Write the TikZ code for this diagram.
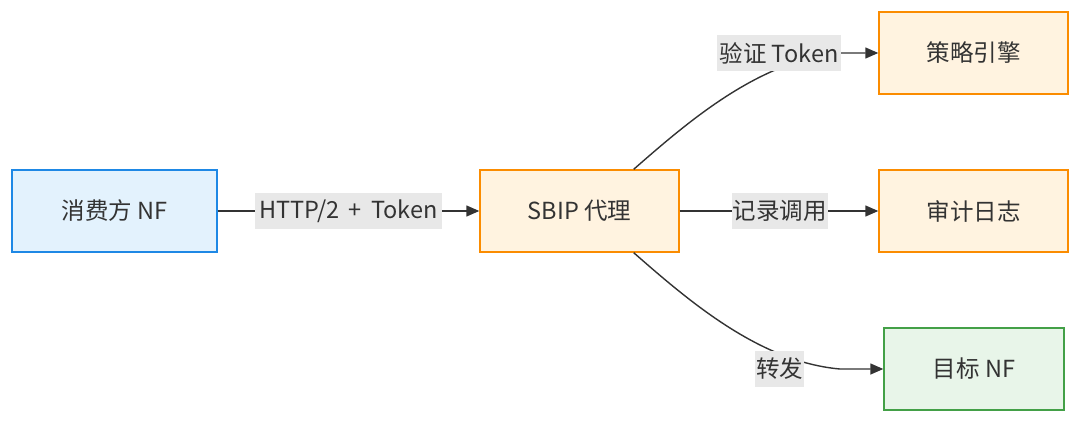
\documentclass[tikz,border=0pt]{standalone}
\usepackage{fontspec}
\setmainfont{Noto Sans CJK SC}
\usetikzlibrary{arrows.meta,calc}
\definecolor{bluefill}{HTML}{E3F2FD}
\definecolor{blueline}{HTML}{1E88E5}
\definecolor{orfill}{HTML}{FFF3E0}
\definecolor{orline}{HTML}{FB8C00}
\definecolor{grfill}{HTML}{E8F5E9}
\definecolor{grline}{HTML}{43A047}
\definecolor{lblbg}{HTML}{E8E8E8}
\definecolor{edgec}{HTML}{333333}
\definecolor{txt}{HTML}{333333}
\tikzset{
  box/.style={draw, line width=1.4pt, minimum height=82pt, inner sep=0pt,
    font=\fontsize{23.5}{28}\selectfont, text=txt},
  bluebox/.style={box, fill=bluefill, draw=blueline},
  orbox/.style={box, fill=orfill, draw=orline},
  grbox/.style={box, fill=grfill, draw=grline},
  lbl/.style={fill=lblbg, inner xsep=1pt, inner ysep=0pt, minimum height=36pt,
    font=\fontsize{23.5}{28}\selectfont, text=txt},
  conn/.style={draw=edgec, line width=1.4pt, -{Triangle[length=13pt,width=11pt]}},
}
\begin{document}
\begin{tikzpicture}[x=1pt,y=-1pt]
\useasboundingbox (0,0) rectangle (1080,423);
\node[bluebox, minimum width=205pt] (cons) at (114.5,211) {消费方 NF};
\node[orbox, minimum width=199pt] (sbip) at (579.5,211) {SBIP 代理};
\node[orbox, minimum width=189pt] (pol) at (973.5,53) {策略引擎};
\node[orbox, minimum width=189pt] (aud) at (973.5,211) {审计日志};
\node[grbox, minimum width=180pt] (tgt) at (974,369) {目标 NF};
\coordinate (stop) at ($(sbip.north east)+(-46,0)$);
\coordinate (sbot) at ($(sbip.south east)+(-46,0)$);
% straight edges
\draw[conn] (cons.east) -- (sbip.west);
\node[lbl, minimum width=187pt] (l1) at (348.5,211) {HTTP/2 \,+\, Token};
\draw[conn] (sbip.east) -- (aud.west);
\node[lbl] (l3) at (779.5,211) {记录调用};
% curved edges
\draw[conn] (stop) .. controls (690,120) and (760,60) .. (840,53) -- (pol.west);
\node[lbl, minimum width=124pt] (l2) at (779,53) {验证 Token};
\draw[conn] (sbot) .. controls (690,302) and (760,362) .. (840,369) -- (tgt.west);
\node[lbl] (l4) at (779.5,369) {转发};
\end{tikzpicture}
\end{document}
